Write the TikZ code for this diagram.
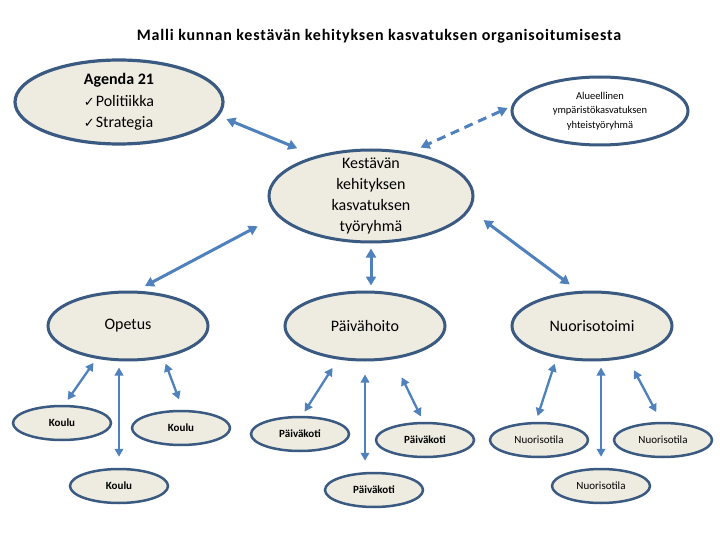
\documentclass[tikz,border=0pt]{standalone}
\usepackage{fontspec}
\setmainfont{Carlito}
\newfontfamily\djv{DejaVu Sans}
\usetikzlibrary{shapes.geometric,arrows.meta,calc}
\definecolor{efill}{HTML}{EEECE1}
\definecolor{eline}{HTML}{3B5A82}
\definecolor{arr}{HTML}{4F81BD}
\newcommand{\chk}{{\djv\fontsize{13}{14}\selectfont ✓}\hspace{1pt}}
\begin{document}
\begin{tikzpicture}[x=1pt,y=-1pt,
 ell/.style={ellipse,fill=efill,draw=eline,line width=3pt,inner sep=0pt},
 big/.style={ell,minimum width=160pt,minimum height=68pt},
 small/.style={ell,line width=2.5pt,minimum width=98pt,minimum height=34pt},
 txt/.style={inner sep=0pt,align=center,text=black,font=\fontsize{16}{21.3}\selectfont},
 stxt/.style={inner sep=0pt,align=center,text=black,font=\fontsize{11}{14}\selectfont},
 link/.style={draw=arr,line width=3pt,{Triangle[length=9pt,width=10pt]}-{Triangle[length=9pt,width=10pt]}},
 sublink/.style={link,line width=2.3pt,{Triangle[length=8pt,width=8.5pt]}-{Triangle[length=8pt,width=8.5pt]}}]
\useasboundingbox (0,0) rectangle (720,540);
\fill[white] (0,0) rectangle (720,540);

\node[inner sep=0pt,font=\fontsize{16}{18}\selectfont\bfseries\addfontfeature{LetterSpace=5}] (title) at (379,36) {Malli kunnan kestävän kehityksen kasvatuksen organisoitumisesta};

\node[ell,line width=3.2pt,minimum width=208pt,minimum height=84pt,
  label={[txt,align=left]center:{\textbf{Agenda 21}\\\chk Politiikka\\\chk Strategia}}] (agenda) at (119,102) {};
\node[ell,fill=white,minimum width=176pt,minimum height=68pt,
  label={[stxt,font=\fontsize{10.5}{14.5}\selectfont]center:{Alueellinen\\ympäristökasvatuksen\\yhteistyöryhmä}}] (alue) at (600,111) {};
\node[ell,minimum width=204pt,minimum height=92pt,
  label={[txt]center:{Kestävän\\kehityksen\\kasvatuksen\\työryhmä}}] (kest) at (371,196) {};

\node[big,label={[txt]center:Opetus}] (opetus) at (128,326) {};
\node[big,label={[txt]center:Päivähoito}] (paiva) at (365,326) {};
\node[big,label={[txt]center:Nuorisotoimi}] (nuoris) at (592,326) {};

\node[small,label={[stxt]center:\textbf{Koulu}}] (k1) at (62,423) {};
\node[small,label={[stxt]center:\textbf{Koulu}}] (k2) at (181,428) {};
\node[small,label={[stxt]center:\textbf{Koulu}}] (k3) at (119,486) {};
\node[small,label={[stxt]center:\textbf{Päiväkoti}}] (p1) at (300,434) {};
\node[small,label={[stxt]center:\textbf{Päiväkoti}}] (p2) at (374,490) {};
\node[small,label={[stxt]center:\textbf{Päiväkoti}}] (p3) at (425,440) {};
\node[small,label={[stxt]center:Nuorisotila}] (n1) at (539,440) {};
\node[small,label={[stxt]center:Nuorisotila}] (n2) at (663,440) {};
\node[small,label={[stxt]center:Nuorisotila}] (n3) at (601,486) {};

% main links
\draw[link,shorten <=8pt,shorten >=20pt] (agenda.-8) -- (kest.144);
\draw[link,dash pattern=on 9pt off 6pt,shorten <=4pt,shorten >=11pt] (alue.177) -- (kest.48);
\draw[link,shorten <=17pt,shorten >=11pt] (kest.-8) -- (nuoris.111);
\draw[link,shorten <=22pt,shorten >=10pt] (kest.-168) -- (opetus.77);
\draw[link,shorten <=5pt,shorten >=5pt] (kest.south) -- (kest.south |- paiva.north);

% sub links
\draw[sublink,shorten <=5pt,shorten >=6pt] (opetus.-134) -- (k1.83);
\draw[sublink,shorten <=6pt,shorten >=11pt] (k3.north |- opetus.south) -- (k3.north);
\draw[sublink,shorten <=6pt,shorten >=11pt] (opetus.-42) -- (k2.84);
\draw[sublink,shorten <=10pt,shorten >=5pt] (paiva.-129) -- (p1.84);
\draw[sublink,shorten <=13pt,shorten >=11pt] (paiva.south) -- (paiva.south |- p2.north);
\draw[sublink,shorten <=20pt,shorten >=6pt] (paiva.-50) -- (p3.95);
\draw[sublink,shorten <=6pt,shorten >=6pt] (nuoris.-138) -- (n1.100);
\draw[sublink,shorten <=6pt,shorten >=11pt] (n3.north |- nuoris.south) -- (n3.north);
\draw[sublink,shorten <=14pt,shorten >=11pt] (nuoris.-42) -- (n2.95);
\end{tikzpicture}
\end{document}
